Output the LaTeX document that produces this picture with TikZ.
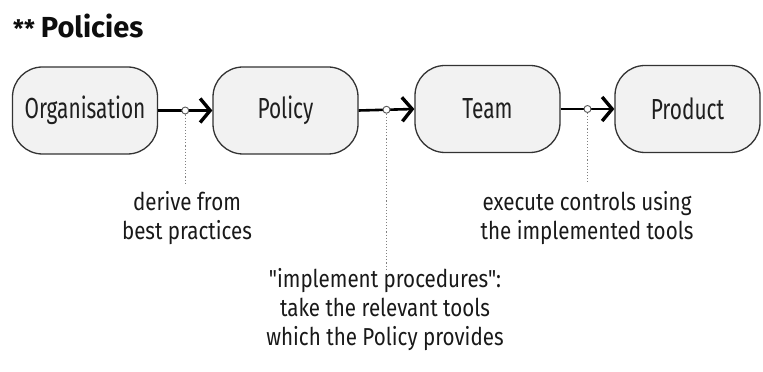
\documentclass[tikz,border=0pt]{standalone}
\usepackage{fontspec}
\setmainfont{Fira Sans}
\newfontfamily\labelfont{Fira Sans}[FakeStretch=0.72]
\newfontfamily\notefont{Fira Sans}[FakeStretch=0.84]
\usetikzlibrary{arrows.meta}
\begin{document}
\begin{tikzpicture}[x=1pt,y=1pt,
 box/.style={draw=black!80, line width=1.3pt, fill=black!5, rounded corners=30pt, minimum width=145pt, minimum height=87pt, font=\labelfont\fontsize{29}{32}\selectfont, text=black!88},
 flow/.style={line width=2.6pt, -{Straight Barb[length=10pt,width=24pt,line width=3.4pt]}},
 dotc/.style={circle, draw=black!65, fill=white, inner sep=0pt, minimum size=7pt, line width=0.9pt},
 guide/.style={dotted, draw=black!50, line width=1.1pt},
 note/.style={align=center, font=\notefont\fontsize{24.5}{29}\selectfont, text=black!90}]
\useasboundingbox (0,0) rectangle (763,372);
\node[anchor=base west, inner sep=0pt, font=\bfseries\fontsize{29}{32}\selectfont, text=black!95] (title) at (13,334) {{\fontsize{24}{24}\selectfont**}\hspace{6pt}Policies};
\node[box] (org) at (85,261.5) {Organisation};
\node[box] (pol) at (285.5,261.5) {Policy};
\node[box] (team) at (487.5,263) {Team};
\node[box] (prod) at (687.5,263) {Product};
\draw[flow] (org.east) -- node[dotc, pos=0.5] (d1) {} (pol.west);
\draw[flow] (pol.east) -- node[dotc, pos=0.5] (d2) {} (team.west);
\draw[flow] (team.east) -- node[dotc, pos=0.5] (d3) {} (prod.west);
\node[note] (n1) at (187,154) {derive from\\best practices};
\node[note] (n2) at (385,62) {{\char34}implement procedures{\char34}:\\take the relevant tools\\which the Policy provides};
\node[note] (n3) at (587,154) {execute controls using\\the implemented tools};
\draw[guide] (d1.south) -- (d1.south |- 0,189);
\draw[guide] (d2.south) -- (d2.south |- 0,102);
\draw[guide] (d3.south) -- (d3.south |- 0,189);
\end{tikzpicture}
\end{document}
